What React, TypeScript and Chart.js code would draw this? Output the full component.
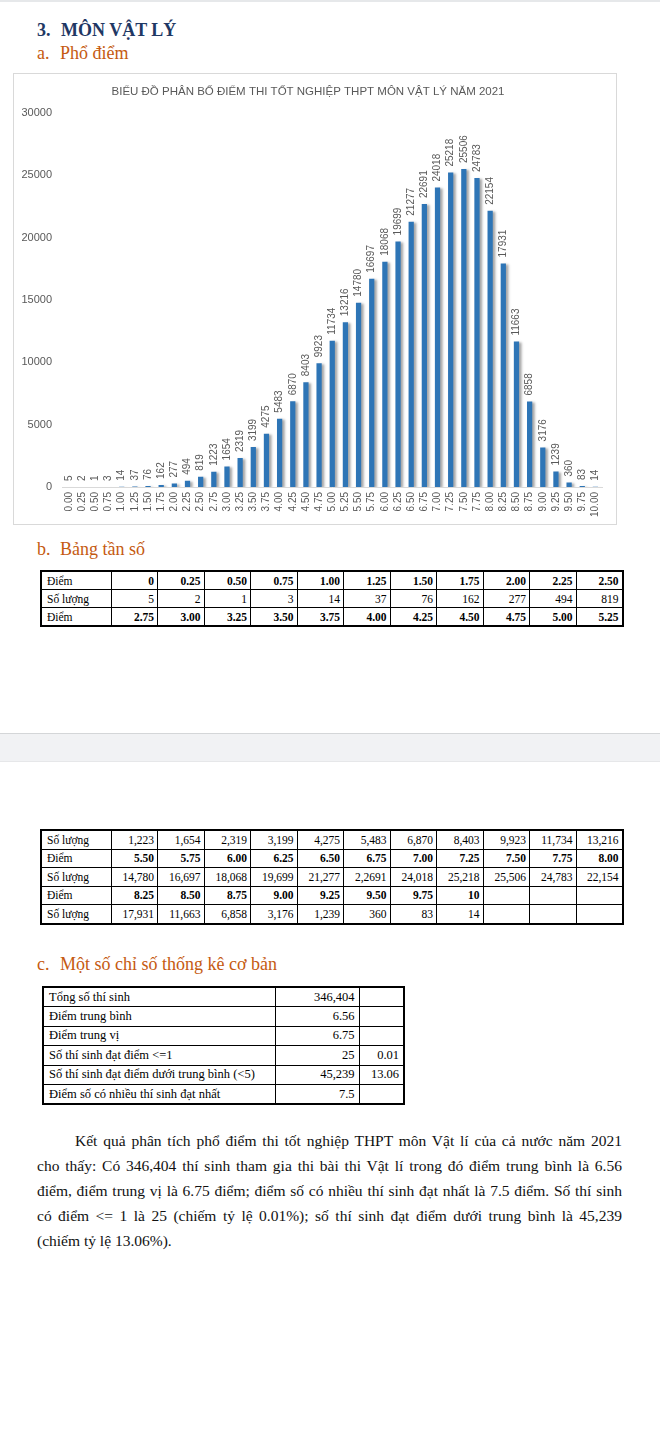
import React, { useEffect, useRef } from "react";
import { Chart, registerables } from "chart.js";

Chart.register(...registerables);

// ---------- data ----------
const scoreLabels = [
  "0.00", "0.25", "0.50", "0.75", "1.00", "1.25", "1.50", "1.75", "2.00", "2.25",
  "2.50", "2.75", "3.00", "3.25", "3.50", "3.75", "4.00", "4.25", "4.50", "4.75",
  "5.00", "5.25", "5.50", "5.75", "6.00", "6.25", "6.50", "6.75", "7.00", "7.25",
  "7.50", "7.75", "8.00", "8.25", "8.50", "8.75", "9.00", "9.25", "9.50", "9.75", "10.00",
];
const studentCounts = [
  5, 2, 1, 3, 14, 37, 76, 162, 277, 494,
  819, 1223, 1654, 2319, 3199, 4275, 5483, 6870, 8403, 9923,
  11734, 13216, 14780, 16697, 18068, 19699, 21277, 22691, 24018, 25218,
  25506, 24783, 22154, 17931, 11663, 6858, 3176, 1239, 360, 83, 14,
];
const yAxisMin = 0;
const yAxisMax = 30000;
const yAxisStep = 5000;
const chartTitle = "BIỂU ĐỒ PHÂN BỐ ĐIỂM THI TỐT NGHIỆP THPT MÔN VẬT LÝ NĂM 2021";

const t1Scores = ["0", "0.25", "0.50", "0.75", "1.00", "1.25", "1.50", "1.75", "2.00", "2.25", "2.50"];
const t1Counts = ["5", "2", "1", "3", "14", "37", "76", "162", "277", "494", "819"];
const t1Scores2 = ["2.75", "3.00", "3.25", "3.50", "3.75", "4.00", "4.25", "4.50", "4.75", "5.00", "5.25"];
const t2Counts2 = ["1,223", "1,654", "2,319", "3,199", "4,275", "5,483", "6,870", "8,403", "9,923", "11,734", "13,216"];
const t2Scores3 = ["5.50", "5.75", "6.00", "6.25", "6.50", "6.75", "7.00", "7.25", "7.50", "7.75", "8.00"];
const t2Counts3 = ["14,780", "16,697", "18,068", "19,699", "21,277", "2,2691", "24,018", "25,218", "25,506", "24,783", "22,154"];
const t2Scores4 = ["8.25", "8.50", "8.75", "9.00", "9.25", "9.50", "9.75", "10", "", "", ""];
const t2Counts4 = ["17,931", "11,663", "6,858", "3,176", "1,239", "360", "83", "14", "", "", ""];

const statLabels = [
  "Tổng số thí sinh",
  "Điểm trung bình",
  "Điểm trung vị",
  "Số thí sinh đạt điểm <=1",
  "Số thí sinh đạt điểm dưới trung bình (<5)",
  "Điểm số có nhiều thí sinh đạt nhất",
];
const statValues = ["346,404", "6.56", "6.75", "25", "45,239", "7.5"];
const statPercents = ["", "", "", "0.01", "13.06", ""];

const paragraphLines = [
  "Kết quả phân tích phổ điểm thi tốt nghiệp THPT môn Vật lí của cả nước năm 2021",
  "cho thấy: Có 346,404 thí sinh tham gia thi bài thi Vật lí trong đó điểm trung bình là 6.56",
  "điểm, điểm trung vị là 6.75 điểm; điểm số có nhiều thí sinh đạt nhất là 7.5 điểm. Số thí sinh",
  "có điểm <= 1 là 25 (chiếm tỷ lệ 0.01%); số thí sinh đạt điểm dưới trung bình là 45,239",
  "(chiếm tỷ lệ 13.06%).",
];

// ---------- styles ----------
const SERIF = "'Liberation Serif', 'Times New Roman', serif";
const SANS = "'Liberation Sans', Arial, sans-serif";
const ORANGE = "#c55a11";
const NAVY = "#1f3864";
const BAR = "#2e75b6";
const GREY_TEXT = "#595959";

function ScoreChart() {
  const ref = useRef<HTMLCanvasElement>(null);
  useEffect(() => {
    if (!ref.current) return;
    const shadowPlugin = {
      id: "barShadow",
      beforeDatasetsDraw(chart: any) {
        const c = chart.ctx;
        c.save();
        c.shadowColor = "rgba(0,0,0,0.35)";
        c.shadowBlur = 2.5;
        c.shadowOffsetX = 2.5;
        c.shadowOffsetY = 1;
      },
      afterDatasetsDraw(chart: any) {
        chart.ctx.restore();
      },
    };
    const valueLabelPlugin = {
      id: "valueLabels",
      afterDatasetsDraw(chart: any) {
        const c = chart.ctx;
        const meta = chart.getDatasetMeta(0);
        const data = chart.data.datasets[0].data as number[];
        c.save();
        c.fillStyle = GREY_TEXT;
        c.font = `10px ${SANS}`;
        c.textAlign = "left";
        c.textBaseline = "middle";
        meta.data.forEach((bar: any, i: number) => {
          c.save();
          c.translate(bar.x, bar.y - 6);
          c.rotate(-Math.PI / 2);
          c.fillText(String(data[i]), 0, 0);
          c.restore();
        });
        c.restore();
      },
    };
    const chart = new Chart(ref.current, {
      type: "bar",
      data: {
        labels: scoreLabels,
        datasets: [
          {
            data: studentCounts,
            backgroundColor: BAR,
            borderWidth: 0,
            categoryPercentage: 1,
            barPercentage: 0.4,
          },
        ],
      },
      options: {
        animation: false,
        responsive: true,
        maintainAspectRatio: false,
        layout: { padding: { left: 0, right: 14, top: 0, bottom: 0 } },
        plugins: {
          legend: { display: false },
          tooltip: { enabled: false },
          title: {
            display: true,
            text: chartTitle,
            color: GREY_TEXT,
            font: { family: SANS, size: 11.5, weight: "normal" },
            padding: { top: 10.5, bottom: 14.7 },
          },
        },
        scales: {
          x: {
            grid: { display: false, drawTicks: false },
            border: { display: true, color: "#d9d9d9" },
            ticks: {
              autoSkip: false,
              minRotation: 90,
              maxRotation: 90,
              padding: 5,
              color: GREY_TEXT,
              font: { family: SANS, size: 10 },
            },
            afterFit: (s: any) => {
              s.height = 37;
            },
          },
          y: {
            min: yAxisMin,
            max: yAxisMax,
            grid: { display: false, drawTicks: false },
            border: { display: false },
            ticks: {
              stepSize: yAxisStep,
              padding: 10.5,
              color: GREY_TEXT,
              font: { family: SANS, size: 11 },
              callback: (v: any) => String(v),
            },
            afterFit: (s: any) => {
              s.width = 48.5;
            },
          },
        },
      } as any,
      plugins: [shadowPlugin, valueLabelPlugin],
    });
    return () => chart.destroy();
  }, []);
  return (
    <>
      <div
        style={{
          position: "absolute",
          left: 13,
          top: 73,
          width: 604,
          height: 452,
          boxSizing: "border-box",
          border: "1px solid #d9d9d9",
        }}
      />
      <div style={{ position: "absolute", left: 14, top: 74, width: 602, height: 450 }}>
        <canvas ref={ref} />
      </div>
    </>
  );
}

type Row = { label: string; cells: string[]; bold: boolean };

function GridTable(props: {
  left: number;
  top: number;
  rows: Row[];
  rowH: number;
  firstW: number;
  cellW: number;
  fontSize: number;
}) {
  const { left, top, rows, rowH, firstW, cellW, fontSize } = props;
  const n = rows[0].cells.length;
  return (
    <table
      style={{
        position: "absolute",
        left,
        top,
        borderCollapse: "collapse",
        tableLayout: "fixed",
        width: firstW + n * cellW,
        border: "2px solid #000",
        fontFamily: SERIF,
        fontSize,
        color: "#000",
      }}
    >
      <colgroup>
        <col style={{ width: firstW }} />
        {rows[0].cells.map((_, i) => (
          <col key={i} style={{ width: cellW }} />
        ))}
      </colgroup>
      <tbody>
        {rows.map((r, ri) => (
          <tr key={ri} style={{ height: rowH }}>
            <td
              style={{
                border: "1px solid #000",
                padding: "0 0 0 5px",
                lineHeight: `${rowH - 2}px`,
                height: rowH - 1,
                whiteSpace: "nowrap",
              }}
            >
              {r.label}
            </td>
            {r.cells.map((c, ci) => (
              <td
                key={ci}
                style={{
                  border: "1px solid #000",
                  padding: "0 3px 0 0",
                  textAlign: "right",
                  fontWeight: r.bold ? "bold" : "normal",
                  lineHeight: `${rowH - 2}px`,
                  height: rowH - 1,
                  whiteSpace: "nowrap",
                }}
              >
                {c}
              </td>
            ))}
          </tr>
        ))}
      </tbody>
    </table>
  );
}

function StatsTable() {
  const rowH = 19.5;
  return (
    <table
      style={{
        position: "absolute",
        left: 42,
        top: 986,
        borderCollapse: "collapse",
        tableLayout: "fixed",
        width: 361,
        border: "2px solid #000",
        fontFamily: SERIF,
        fontSize: 12.5,
        color: "#000",
      }}
    >
      <colgroup>
        <col style={{ width: 232 }} />
        <col style={{ width: 84 }} />
        <col style={{ width: 45 }} />
      </colgroup>
      <tbody>
        {statLabels.map((lab, i) => (
          <tr key={i} style={{ height: rowH }}>
            <td style={{ border: "1.5px solid #000", padding: "0 0 0 5px", lineHeight: "17px", whiteSpace: "nowrap" }}>
              {lab}
            </td>
            <td style={{ border: "1.5px solid #000", padding: "0 4px 0 0", textAlign: "right", lineHeight: "17px" }}>
              {statValues[i]}
            </td>
            <td style={{ border: "1.5px solid #000", padding: "0 4px 0 0", textAlign: "right", lineHeight: "17px" }}>
              {statPercents[i]}
            </td>
          </tr>
        ))}
      </tbody>
    </table>
  );
}

export default function App() {
  const table1: Row[] = [
    { label: "Điểm", cells: t1Scores, bold: true },
    { label: "Số lượng", cells: t1Counts, bold: false },
    { label: "Điểm", cells: t1Scores2, bold: true },
  ];
  const table2: Row[] = [
    { label: "Số lượng", cells: t2Counts2, bold: false },
    { label: "Điểm", cells: t2Scores3, bold: true },
    { label: "Số lượng", cells: t2Counts3, bold: false },
    { label: "Điểm", cells: t2Scores4, bold: true },
    { label: "Số lượng", cells: t2Counts4, bold: false },
  ];
  const heading = (top: number, num: string, text: string, color: string, bold: boolean, gapLeft: number) => (
    <div
      style={{
        position: "absolute",
        left: 37,
        top,
        fontFamily: SERIF,
        fontSize: 18,
        lineHeight: "20px",
        color,
        fontWeight: bold ? "bold" : "normal",
        whiteSpace: "nowrap",
      }}
    >
      <span>{num}</span>
      <span style={{ position: "absolute", left: gapLeft }}>{text}</span>
    </div>
  );
  return (
    <div
      style={{
        position: "absolute",
        left: 0,
        top: 0,
        width: 660,
        height: 1429,
        background: "#fff",
        overflow: "hidden",
      }}
    >
      <div style={{ position: "absolute", left: 0, top: 0, width: 660, height: 2, background: "#e6e8ea" }} />
      {heading(20, "3.", "MÔN VẬT LÝ", NAVY, true, 24)}
      {heading(43, "a.", "Phổ điểm", ORANGE, false, 23)}
      <ScoreChart />
      {heading(539, "b.", "Bảng tần số", ORANGE, false, 23)}
      <GridTable left={40} top={570} rows={table1} rowH={18} firstW={70} cellW={46.5} fontSize={11.5} />
      <div
        style={{
          position: "absolute",
          left: 0,
          top: 733,
          width: 660,
          height: 29,
          background: "#f1f2f4",
          borderTop: "1px solid #d4d6d8",
          borderBottom: "1px solid #e6e7e9",
          boxSizing: "border-box",
        }}
      />
      <GridTable left={40} top={829} rows={table2} rowH={18.5} firstW={70} cellW={46.5} fontSize={11.5} />
      {heading(954, "c.", "Một số chỉ số thống kê cơ bản", ORANGE, false, 23)}
      <StatsTable />
      {paragraphLines.map((line, i) => {
        const last = i === paragraphLines.length - 1;
        const left = i === 0 ? 75 : 37;
        return (
          <div
            key={i}
            style={{
              position: "absolute",
              left,
              top: 1129 + i * 25,
              width: 622 - left,
              fontFamily: SERIF,
              fontSize: 15.5,
              lineHeight: "24px",
              color: "#111",
              whiteSpace: "nowrap",
              textAlign: last ? "left" : "justify",
              textAlignLast: last ? "left" : "justify",
            }}
          >
            {line}
          </div>
        );
      })}
    </div>
  );
}
